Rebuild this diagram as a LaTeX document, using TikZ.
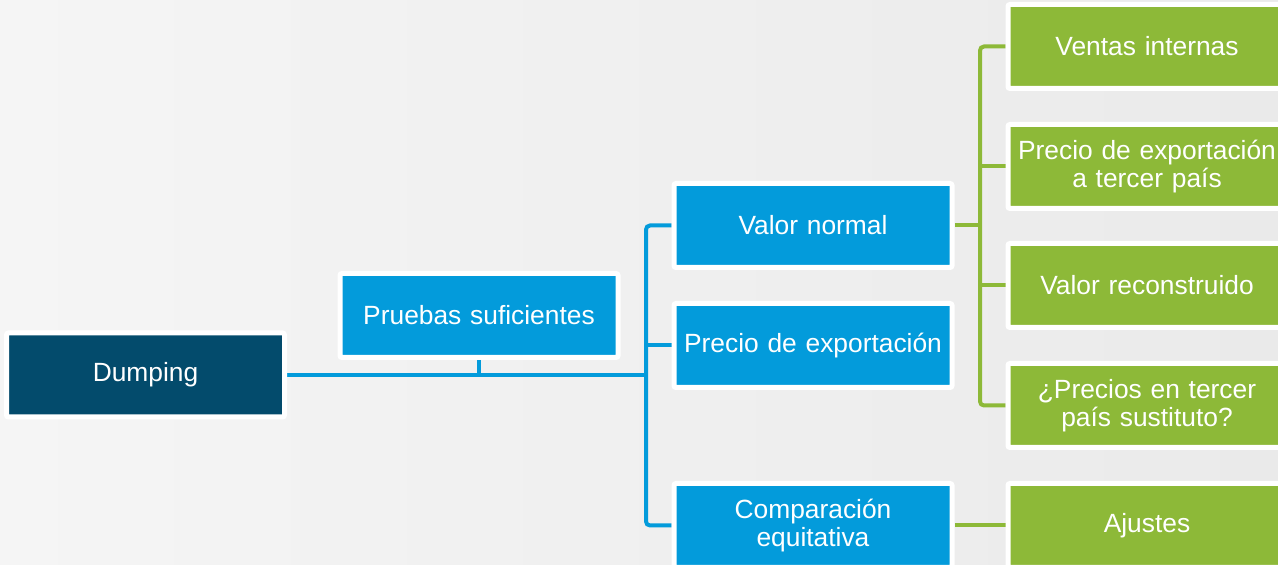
\documentclass[tikz,border=0pt]{standalone}
\usepackage{fontspec}
\setmainfont{Liberation Sans}
\usetikzlibrary{calc}

\definecolor{darkteal}{HTML}{034B6C}
\definecolor{skyblue}{HTML}{039BDB}
\definecolor{leafgreen}{HTML}{8DB938}
\definecolor{bgleft}{HTML}{F5F5F5}
\definecolor{bgright}{HTML}{EAEAEA}

\tikzstyle{block} = [rectangle, draw=white, line width=0.1cm, fill=skyblue, text=white,
    minimum width=5.56cm, minimum height=1.68cm, text width=5.3cm, align=center,
    rounded corners=0.04cm, font=\fontsize{15}{16}\selectfont]
\tikzstyle{leaf} = [block, fill=leafgreen]
\tikzstyle{line} = [draw, line width=0.08cm, rounded corners=0.08cm]
\pgfdeclarelayer{background}
\pgfdeclarelayer{connectors}
\pgfsetlayers{background,connectors,main}

\begin{document}
\begin{tikzpicture}[node distance = 6.68cm, auto]

    % background
    \begin{pgfonlayer}{background}
        \shade[left color=bgleft, right color=bgright] (0,0) rectangle (25.56,-11.3);
    \end{pgfonlayer}
    \clip (0,0) rectangle (25.56,-11.3);

    % Dumping
    \node [block, fill=darkteal] (dumping) at (2.91,-7.5) {Dumping};
    % Pruebas suficientes
    \node [block, right of=dumping, node distance=6.67cm,
            yshift=1.19cm] (pruebas) {Pruebas suficientes};

    % second column
    \node [block, right of=pruebas, yshift=1.8cm] (valor) {Valor normal};
    \node [block, right of=pruebas, yshift=-0.6cm] (precio) {Precio de exportación};
    \node [block, right of=pruebas, yshift=-4.2cm] (comparacion) {Comparación\\equitativa};

    % third column
    \node [leaf, right of=valor, yshift=3.58cm] (ventas) {Ventas internas};
    \node [leaf, right of=valor, yshift=1.18cm] (tercer) {Precio de exportación\\a tercer país};
    \node [leaf, right of=valor, yshift=-1.2cm] (reconstruido) {Valor reconstruido};
    \node [leaf, right of=valor, yshift=-3.6cm] (sustituto) {¿Precios en tercer\\país sustituto?};
    \node [leaf, right of=comparacion] (ajustes) {Ajustes};

    % trunks
    \coordinate (bluetrunk) at ($(pruebas.east)!0.5!(valor.west)$);
    \coordinate (greentrunk) at ($(valor.east)!0.5!(ventas.west)$);

    % Path
    \begin{pgfonlayer}{connectors}
        \path[line, skyblue] (dumping.east) -- (bluetrunk |- dumping.east);
        \path[line, skyblue] (pruebas.south) -- (pruebas.south |- dumping.east);
        \path[line, skyblue] (valor.west) -- (bluetrunk |- valor.west)
            -- (bluetrunk |- comparacion.west) -- (comparacion.west);
        \path[line, skyblue] (precio.west) -- (bluetrunk |- precio.west);

        \path[line, leafgreen] (valor.east) -- (greentrunk |- valor.east);
        \path[line, leafgreen] (ventas.west) -- (greentrunk |- ventas.west)
            -- (greentrunk |- sustituto.west) -- (sustituto.west);
        \path[line, leafgreen] (tercer.west) -- (greentrunk |- tercer.west);
        \path[line, leafgreen] (reconstruido.west) -- (greentrunk |- reconstruido.west);
        \path[line, leafgreen] (comparacion.east) -- (ajustes.west);
    \end{pgfonlayer}

\end{tikzpicture}
\end{document}
